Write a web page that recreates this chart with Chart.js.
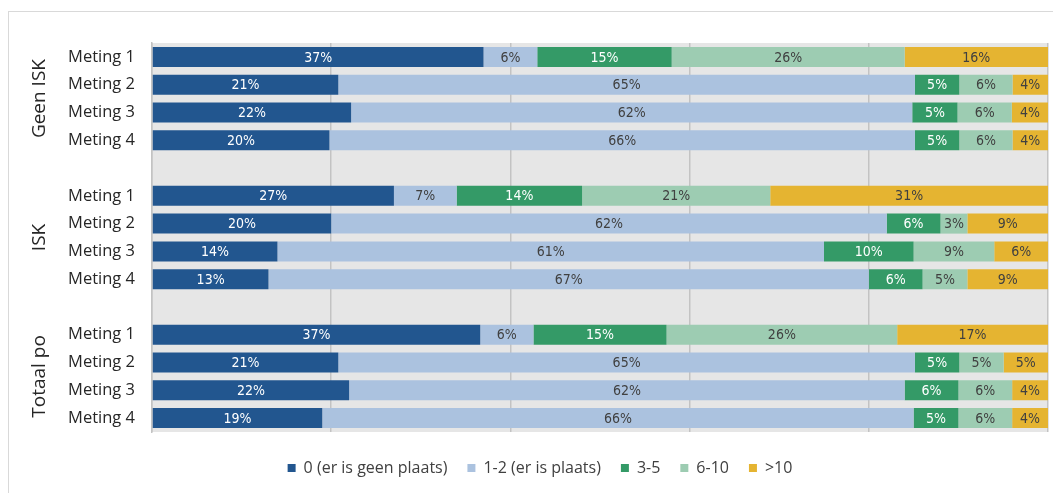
<!DOCTYPE html>
<html>
<head>
<meta charset="utf-8">
<script src="https://cdn.jsdelivr.net/npm/chart.js@4"></script>
<style>
  html, body { margin: 0; padding: 0; background: #fff; overflow: hidden; }
  #wrap { position: relative; width: 1053px; height: 493px; }
  #frame { position: absolute; left: 8px; top: 11px; width: 1100px; height: 600px; border: 1px solid #d9d9d9; }
  #c { position: absolute; left: 0; top: 0; }
</style>
</head>
<body>
<div id="wrap">
  <div id="frame"></div>
  <canvas id="c" width="1053" height="493"></canvas>
</div>
<script>
// rows, empty label = gap between groups
var categories = ['Meting 1', 'Meting 2', 'Meting 3', 'Meting 4', '',
                  'Meting 1', 'Meting 2', 'Meting 3', 'Meting 4', '',
                  'Meting 1', 'Meting 2', 'Meting 3', 'Meting 4'];
var groupLabels = ['Geen ISK', 'ISK', 'Totaal po'];

var seriesNames = ['0 (er is geen plaats)', '1-2 (er is plaats)', '3-5', '6-10', '>10'];
var seriesColors = ['#22568f', '#abc2df', '#349a67', '#9dccb2', '#e5b431'];
var labelColors = ['#ffffff', '#404040', '#ffffff', '#404040', '#404040'];

var s0 = [37, 21, 22, 20, null, 27, 20, 14, 13, null, 37, 21, 22, 19];
var s1 = [6, 65, 62, 66, null, 7, 62, 61, 67, null, 6, 65, 62, 66];
var s2 = [15, 5, 5, 5, null, 14, 6, 10, 6, null, 15, 5, 6, 5];
var s3 = [26, 6, 6, 6, null, 21, 3, 9, 5, null, 26, 5, 6, 6];
var s4 = [16, 4, 4, 4, null, 31, 9, 6, 9, null, 17, 5, 4, 4];
var series = [s0, s1, s2, s3, s4];

// 100% stacked: scale every row to its own total
var rowSum = categories.map(function(_, i) {
    return series.reduce(function(a, s) { return a + (s[i] || 0); }, 0);
});

var datasets = series.map(function(s, k) {
    return {
        label: seriesNames[k],
        data: s.map(function(v, i) { return v == null ? null : v / rowSum[i] * 100; }),
        raw: s,
        backgroundColor: seriesColors[k],
        borderWidth: 0,
        barPercentage: 0.72,
        categoryPercentage: 1
    };
});

var FONT = '"Open Sans", "Noto Sans", sans-serif';

var plotBg = {
    id: 'plotBg',
    beforeDraw: function(chart) {
        var a = chart.chartArea, ctx = chart.ctx;
        ctx.save();
        ctx.fillStyle = '#e6e6e6';
        ctx.fillRect(a.left, a.top, a.right - a.left, a.bottom - a.top);
        ctx.restore();
    }
};

var barLabels = {
    id: 'barLabels',
    afterDatasetsDraw: function(chart) {
        var ctx = chart.ctx;
        ctx.save();
        ctx.font = '14px "DejaVu Sans", sans-serif';
        if ('fontStretch' in ctx) ctx.fontStretch = 'condensed';
        ctx.textAlign = 'center';
        ctx.textBaseline = 'middle';
        chart.data.datasets.forEach(function(ds, k) {
            chart.getDatasetMeta(k).data.forEach(function(bar, i) {
                var v = ds.raw[i];
                if (v == null) return;
                ctx.fillStyle = labelColors[k];
                ctx.fillText(v + '%', (bar.x + bar.base) / 2, bar.y + 1);
            });
        });
        ctx.restore();
    }
};

var groupTitles = {
    id: 'groupTitles',
    afterDraw: function(chart) {
        var y = chart.scales.y, ctx = chart.ctx;
        var start = 0, g = 0;
        ctx.save();
        ctx.font = '19px ' + FONT;
        ctx.fillStyle = '#262626';
        ctx.textAlign = 'center';
        ctx.textBaseline = 'middle';
        for (var i = 0; i <= categories.length; i++) {
            if (i === categories.length || categories[i] === '') {
                var mid = (y.getPixelForValue(start) + y.getPixelForValue(i - 1)) / 2;
                ctx.save();
                ctx.translate(40, mid);
                ctx.rotate(-Math.PI / 2);
                ctx.fillText(groupLabels[g], 0, 0);
                ctx.restore();
                g++;
                start = i + 1;
            }
        }
        ctx.restore();
    }
};

new Chart(document.getElementById('c'), {
    type: 'bar',
    data: { labels: categories, datasets: datasets },
    options: {
        indexAxis: 'y',
        responsive: false,
        animation: false,
        layout: { padding: { top: 43, right: 5, bottom: 7, left: 32 } },
        scales: {
            x: {
                stacked: true,
                min: 0,
                max: 100,
                ticks: { display: false, stepSize: 20 },
                grid: { color: '#c3c3c3', lineWidth: 1.5, drawTicks: false },
                border: { display: false },
                afterFit: function(s) { s.height = 8; }
            },
            y: {
                stacked: true,
                ticks: { color: '#262626', font: { family: FONT, size: 16.5 }, padding: 17, autoSkip: false },
                grid: { display: false, drawTicks: false },
                border: { color: '#c3c3c3', width: 1.5 },
                afterFit: function(s) { s.width = 120; }
            }
        },
        plugins: {
            legend: {
                position: 'bottom',
                labels: {
                    boxWidth: 8, boxHeight: 8, padding: 20,
                    color: '#404040',
                    font: { family: FONT, size: 16 }
                }
            },
            tooltip: { enabled: false }
        }
    },
    plugins: [plotBg, barLabels, groupTitles]
});
</script>
</body>
</html>
